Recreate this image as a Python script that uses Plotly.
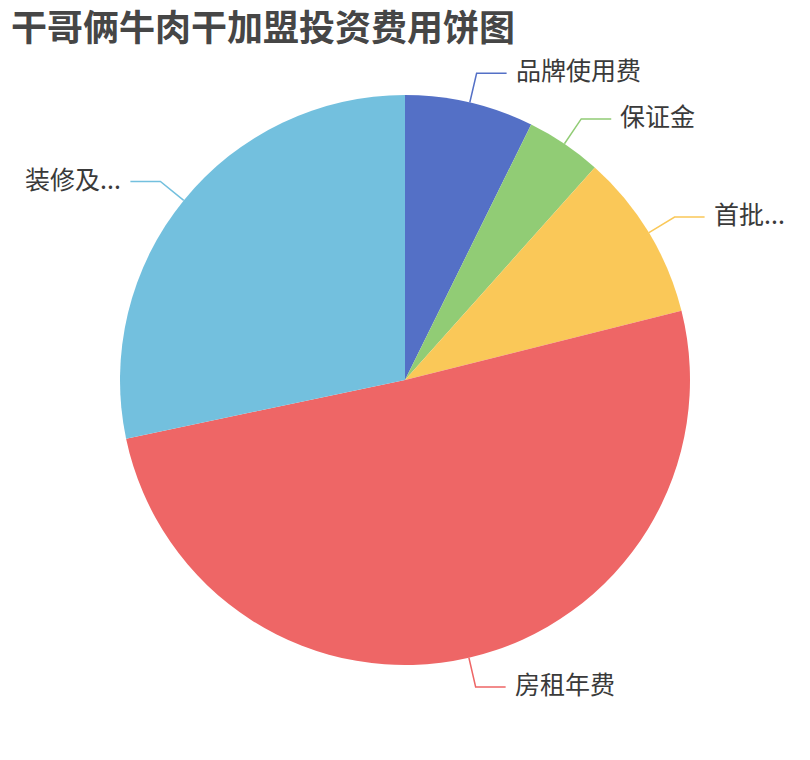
import math
import plotly.graph_objects as go

# 饼图数据（按图中扇区角度估读）
labels = ['品牌使用费', '保证金', '首批...', '房租年费', '装修及...']
values = [7.3, 4.3, 9.5, 50.6, 28.3]
colors = ['#5470c6', '#91cc75', '#fac858', '#ee6666', '#73c0de']

OFF = 8                      # the page body has an 8px margin
W, H = 810 - OFF, 760 - OFF
cx, cy, R = 405 - OFF, 380 - OFF, 285   # pixel centre / radius of the pie
font = 'Noto Sans CJK SC'

pie = go.Pie(
    labels=labels, values=values, sort=False, direction='clockwise', rotation=0,
    marker=dict(colors=colors, line=dict(width=0)),
    textinfo='none', hoverinfo='label+value+percent',
    domain=dict(x=[(cx - R) / W, (cx + R) / W], y=[(H - cy - R) / H, (H - cy + R) / H]),
)

# leader lines + labels, echarts style
shapes = []
annotations = []
total = sum(values)
acc = 0
for lab, val, col in zip(labels, values, colors):
    mid = (acc + val / 2) / total * 2 * math.pi
    acc += val
    sx, sy = math.sin(mid), -math.cos(mid)
    x0, y0 = cx + R * sx, cy + R * sy
    x1, y1 = cx + (R + 30) * sx, cy + (R + 30) * sy
    side = 1 if sx >= 0 else -1
    x2 = x1 + 30 * side
    p = lambda x, y: '%f,%f' % (x / W, 1 - y / H)
    shapes.append(dict(type='path', xref='paper', yref='paper',
                       path='M %s L %s L %s' % (p(x0, y0), p(x1, y1), p(x2, y1)),
                       line=dict(color=col, width=1.5)))
    annotations.append(dict(text=lab, xref='paper', yref='paper',
                            x=(x2 + 7 * side) / W, y=1 - y1 / H, yshift=4,
                            xanchor='left' if side > 0 else 'right', yanchor='middle',
                            showarrow=False, font=dict(family=font, size=25, color='#3a3a3a')))

fig = go.Figure(data=[pie])
fig.update_layout(
    width=W, height=H, margin=dict(l=0, r=0, t=0, b=0),
    paper_bgcolor='white', showlegend=False,
    title=dict(text='<b>干哥俩牛肉干加盟投资费用饼图</b>', x=(11 - OFF) / W, xanchor='left',
               y=1 - (28 - OFF) / H, yanchor='middle',
               font=dict(family=font, size=36, color='#464646')),
    shapes=shapes, annotations=annotations,
)

fig.write_html('out.html')
